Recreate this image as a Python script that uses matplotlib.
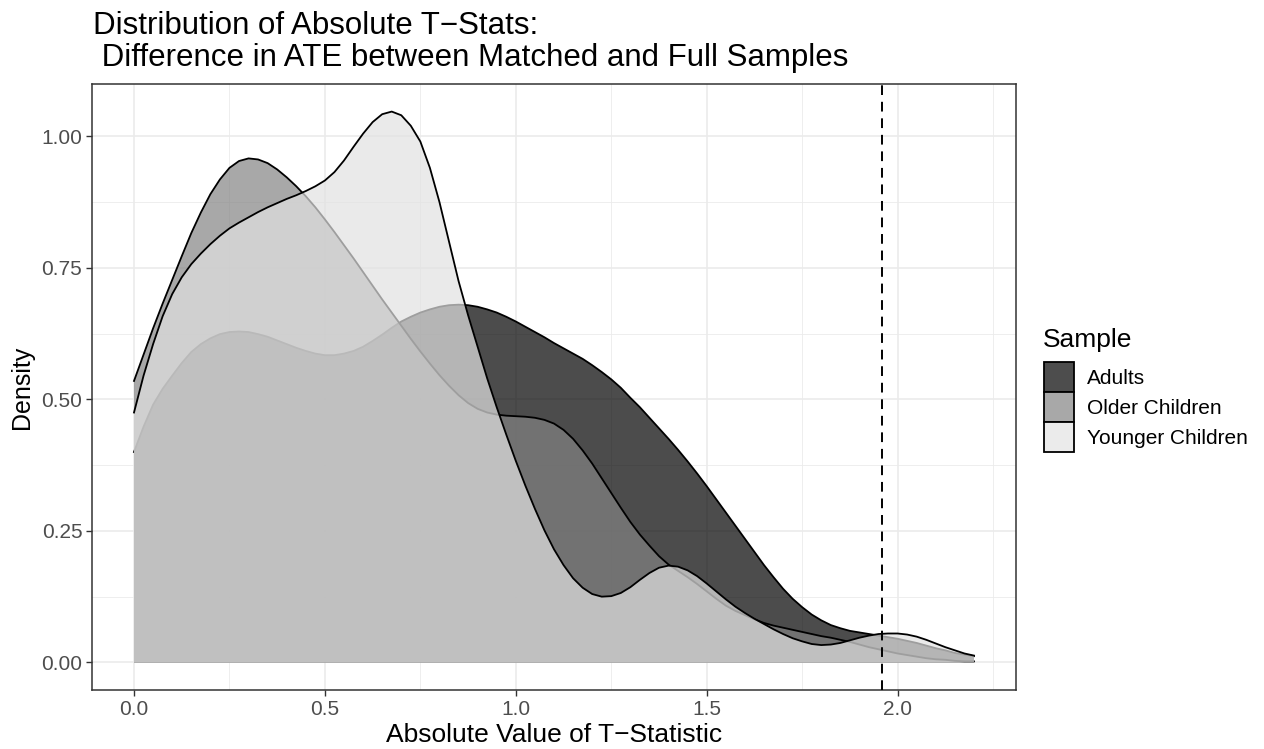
import matplotlib

matplotlib.use("Agg")
import matplotlib.pyplot as plt
from matplotlib.patches import Patch
from matplotlib.ticker import MultipleLocator
import numpy as np

plt.rcParams["font.family"] = ["Liberation Sans", "DejaVu Sans"]

# density of |t| per sample on a 0.025 grid (0 .. 2.2)
x_grid = np.linspace(0.0, 2.2, 89)

adults = [0.400, 0.448, 0.490, 0.520, 0.545, 0.569, 0.590, 0.605, 0.616, 0.624,
          0.628, 0.629, 0.628, 0.624, 0.619, 0.612, 0.605, 0.598, 0.592, 0.587,
          0.584, 0.584, 0.587, 0.592, 0.600, 0.611, 0.623, 0.636, 0.648, 0.657,
          0.665, 0.671, 0.676, 0.679, 0.680, 0.679, 0.676, 0.671, 0.665, 0.657,
          0.648, 0.638, 0.628, 0.618, 0.607, 0.597, 0.587, 0.577, 0.565, 0.552,
          0.538, 0.522, 0.503, 0.485, 0.465, 0.445, 0.425, 0.404, 0.382, 0.359,
          0.335, 0.310, 0.285, 0.260, 0.235, 0.210, 0.185, 0.162, 0.140, 0.121,
          0.105, 0.091, 0.080, 0.071, 0.065, 0.060, 0.057, 0.054, 0.051, 0.048,
          0.045, 0.041, 0.037, 0.032, 0.027, 0.023, 0.018, 0.015, 0.012]

older = [0.535, 0.585, 0.635, 0.682, 0.727, 0.772, 0.816, 0.855, 0.890, 0.918,
         0.940, 0.953, 0.958, 0.956, 0.949, 0.937, 0.922, 0.905, 0.886, 0.865,
         0.842, 0.818, 0.793, 0.768, 0.742, 0.716, 0.690, 0.665, 0.640, 0.615,
         0.591, 0.568, 0.546, 0.526, 0.508, 0.493, 0.482, 0.475, 0.471, 0.469,
         0.468, 0.467, 0.465, 0.461, 0.454, 0.442, 0.425, 0.403, 0.378, 0.350,
         0.322, 0.294, 0.267, 0.243, 0.222, 0.202, 0.186, 0.174, 0.162, 0.149,
         0.135, 0.121, 0.108, 0.098, 0.090, 0.082, 0.075, 0.070, 0.066, 0.062,
         0.058, 0.054, 0.050, 0.047, 0.043, 0.039, 0.034, 0.029, 0.025, 0.021,
         0.017, 0.014, 0.011, 0.008, 0.006, 0.005, 0.003, 0.002, 0.002]

younger = [0.475, 0.545, 0.605, 0.658, 0.700, 0.732, 0.757, 0.777, 0.795, 0.811,
           0.825, 0.836, 0.846, 0.856, 0.865, 0.873, 0.881, 0.888, 0.896, 0.905,
           0.916, 0.932, 0.954, 0.980, 1.005, 1.027, 1.042, 1.047, 1.040, 1.020,
           0.990, 0.940, 0.875, 0.800, 0.725, 0.660, 0.600, 0.540, 0.485, 0.433,
           0.383, 0.336, 0.292, 0.251, 0.215, 0.185, 0.160, 0.142, 0.130, 0.125,
           0.126, 0.132, 0.143, 0.157, 0.170, 0.180, 0.184, 0.182, 0.175, 0.164,
           0.150, 0.135, 0.120, 0.106, 0.094, 0.083, 0.073, 0.063, 0.054, 0.046,
           0.040, 0.035, 0.033, 0.034, 0.037, 0.042, 0.047, 0.051, 0.054, 0.055,
           0.055, 0.053, 0.049, 0.043, 0.036, 0.029, 0.023, 0.017, 0.013]

groups = ["Adults", "Older Children", "Younger Children"]
fills = ["#000000", "#838383", "#E2E2E2"]
ALPHA = 0.7
T_CRIT = 1.96

fig = plt.figure(figsize=(12.64, 7.49), dpi=100)
ax = fig.add_axes([92 / 1264, 1 - 690 / 749, (1016 - 92) / 1264, (690 - 84) / 749])

ax.set_xlim(-0.11, 2.31)
ax.set_ylim(-0.0524, 1.0994)
ax.xaxis.set_major_locator(MultipleLocator(0.5))
ax.xaxis.set_minor_locator(MultipleLocator(0.25))
ax.yaxis.set_major_locator(MultipleLocator(0.25))
ax.yaxis.set_minor_locator(MultipleLocator(0.125))
ax.xaxis.set_major_formatter(lambda v, p: f"{v:.1f}")
ax.yaxis.set_major_formatter(lambda v, p: f"{v:.2f}")
ax.grid(which="major", color="#EBEBEB", lw=1.2, zorder=0)
ax.grid(which="minor", color="#EBEBEB", lw=0.6, zorder=0)
ax.set_axisbelow(True)
for s in ax.spines.values():
    s.set_color("#333333")
    s.set_linewidth(1.1)
ax.tick_params(which="major", length=4, width=1.0, color="#333333",
               labelcolor="#4D4D4D", labelsize=15, pad=3)
ax.tick_params(which="minor", length=0)

for ys, fc in zip([adults, older, younger], fills):
    ax.fill_between(x_grid, 0, ys, facecolor=fc, alpha=ALPHA, lw=0, zorder=2)
    ax.plot(x_grid, ys, color="black", lw=1.3, zorder=2)

ax.axvline(T_CRIT, color="black", lw=1.4, ls=(0, (5, 3.5)), zorder=3)

ax.set_xlabel("Absolute Value of T\u2212Statistic", fontsize=19, labelpad=3)
ax.set_ylabel("Density", fontsize=18, labelpad=5)

fig.text(93 / 1264, 1 - 11 / 749,
         "Distribution of Absolute T\u2212Stats:\n Difference in ATE between Matched and Full Samples",
         ha="left", va="top", fontsize=22.5, linespacing=1.07)

# legend keys show the fill as it renders on white
def on_white(c):
    v = int(c[1:3], 16)
    g = round(255 * (1 - ALPHA) + v * ALPHA)
    return f"#{g:02X}{g:02X}{g:02X}"

fig.text(1043 / 1264, 1 - 347 / 749, "Sample", ha="left", va="baseline", fontsize=19)
handles = [Patch(facecolor=on_white(fc), edgecolor="black", lw=1.3) for fc in fills]
fig.legend(handles, groups, loc="upper left",
           bbox_to_anchor=(1044 / 1264, 1 - 362 / 749), frameon=False,
           fontsize=15, handlelength=1.44, handleheight=1.84,
           labelspacing=0.0, handletextpad=0.62, borderaxespad=0, borderpad=0)

fig.savefig("out.png", dpi=100)
